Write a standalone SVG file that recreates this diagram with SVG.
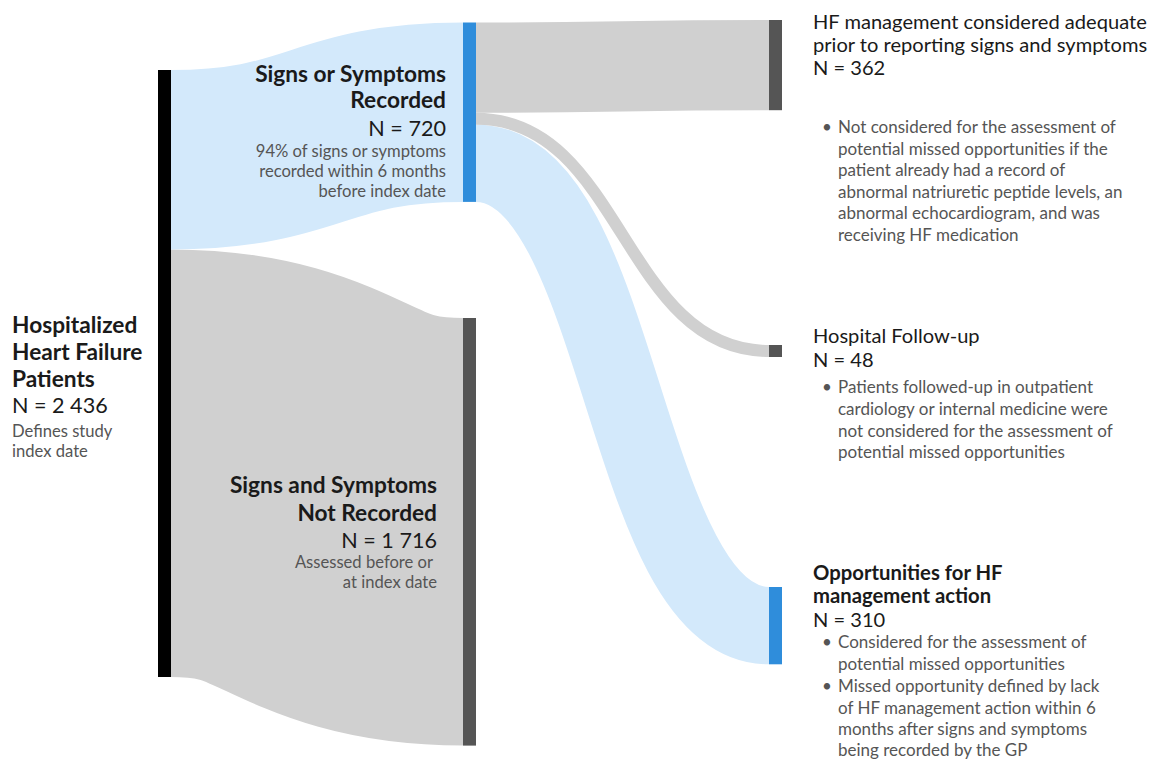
<svg xmlns="http://www.w3.org/2000/svg" width="1149" height="759" viewBox="0 0 1149 759">
<style>
text{font-family:Lato,"Noto Sans","Liberation Sans",sans-serif;}
.t{font-weight:bold;font-size:22.7px;fill:#1a1a1a;}
.n{font-size:21.6px;fill:#1a1a1a;}
.s{font-size:16.6px;fill:#555;}
.rt{font-size:20.1px;fill:#1a1a1a;}
.rb{font-weight:bold;font-size:20.3px;fill:#1a1a1a;}
.b{font-size:17px;fill:#555;}
.lb{fill:none;stroke:#d3e9fb;}
.lg{fill:none;stroke:#d0d0d0;}
</style>
<rect width="1149" height="759" fill="#fff"/>
<g id="links">
<path class="lg" d="M171,463.2 C317,463.2 317,531.8 463,531.8" stroke-width="427.6"/>
<path class="lb" d="M171,159.7 C317,159.7 317,112.2 463,112.2" stroke-width="179.4"/>
<path class="lg" d="M476,67.6 C622.5,67.6 622.5,65.1 769,65.1" stroke-width="90.2"/>
<path class="lb" d="M476,163.3 C622.5,163.3 622.5,625.6 769,625.6" stroke-width="77.3"/>
<path class="lg" d="M476,118.7 C622.5,118.7 622.5,351 769,351" stroke-width="12"/>
</g>
<g id="node-hospitalized">
<rect x="158" y="70" width="13" height="607" fill="#000"/>
<text class="t" x="12" y="333">Hospitalized</text>
<text class="t" x="12" y="360">Heart Failure</text>
<text class="t" x="12" y="387">Patients</text>
<text class="n" x="12" y="413">N = 2 436</text>
<text class="s" x="12" y="437">Defines study</text>
<text class="s" x="12" y="457">index date</text>
</g>
<g id="node-recorded">
<rect x="463" y="22.5" width="13" height="179.4" fill="#2f8ddb"/>
<text class="t" x="446" y="82" text-anchor="end">Signs or Symptoms</text>
<text class="t" x="446" y="108" text-anchor="end">Recorded</text>
<text class="n" x="446" y="136" text-anchor="end">N = 720</text>
<text class="s" x="446" y="157" text-anchor="end">94% of signs or symptoms</text>
<text class="s" x="446" y="177" text-anchor="end">recorded within 6 months</text>
<text class="s" x="446" y="197" text-anchor="end">before index date</text>
</g>
<g id="node-not-recorded">
<rect x="463" y="318" width="13" height="427.6" fill="#555"/>
<text class="t" x="437" y="493" text-anchor="end">Signs and Symptoms</text>
<text class="t" x="437" y="521" text-anchor="end">Not Recorded</text>
<text class="n" x="437" y="548" text-anchor="end">N = 1 716</text>
<text class="s" x="433" y="568" text-anchor="end">Assessed before or</text>
<text class="s" x="437" y="588" text-anchor="end">at index date</text>
</g>
<g id="node-adequate">
<rect x="769" y="20" width="13" height="90.2" fill="#555"/>
<text class="rt" x="813" y="29">HF management considered adequate</text>
<text class="rt" x="813" y="52">prior to reporting signs and symptoms</text>
<text class="rt" x="813" y="75">N = 362</text>
<text class="b" x="822" y="133">•</text>
<text class="b" x="838" y="133">Not considered for the assessment of</text>
<text class="b" x="838" y="154.5">potential missed opportunities if the</text>
<text class="b" x="838" y="176">patient already had a record of</text>
<text class="b" x="838" y="197.5">abnormal natriuretic peptide levels, an</text>
<text class="b" x="838" y="219">abnormal echocardiogram, and was</text>
<text class="b" x="838" y="240.5">receiving HF medication</text>
</g>
<g id="node-followup">
<rect x="769" y="345" width="13" height="12" fill="#555"/>
<text class="rt" x="813" y="343">Hospital Follow-up</text>
<text class="rt" x="813" y="367">N = 48</text>
<text class="b" x="822" y="393">•</text>
<text class="b" x="838" y="393">Patients followed-up in outpatient</text>
<text class="b" x="838" y="415">cardiology or internal medicine were</text>
<text class="b" x="838" y="436.5">not considered for the assessment of</text>
<text class="b" x="838" y="458">potential missed opportunities</text>
</g>
<g id="node-opportunities">
<rect x="769" y="587" width="13" height="77.3" fill="#2f8ddb"/>
<text class="rb" x="813" y="580">Opportunities for HF</text>
<text class="rb" x="813" y="603">management action</text>
<text class="rt" x="813" y="627">N = 310</text>
<text class="b" x="822" y="648">•</text>
<text class="b" x="838" y="648">Considered for the assessment of</text>
<text class="b" x="838" y="670">potential missed opportunities</text>
<text class="b" x="822" y="692">•</text>
<text class="b" x="838" y="692">Missed opportunity defined by lack</text>
<text class="b" x="838" y="714">of HF management action within 6</text>
<text class="b" x="838" y="735">months after signs and symptoms</text>
<text class="b" x="838" y="756">being recorded by the GP</text>
</g>
</svg>
